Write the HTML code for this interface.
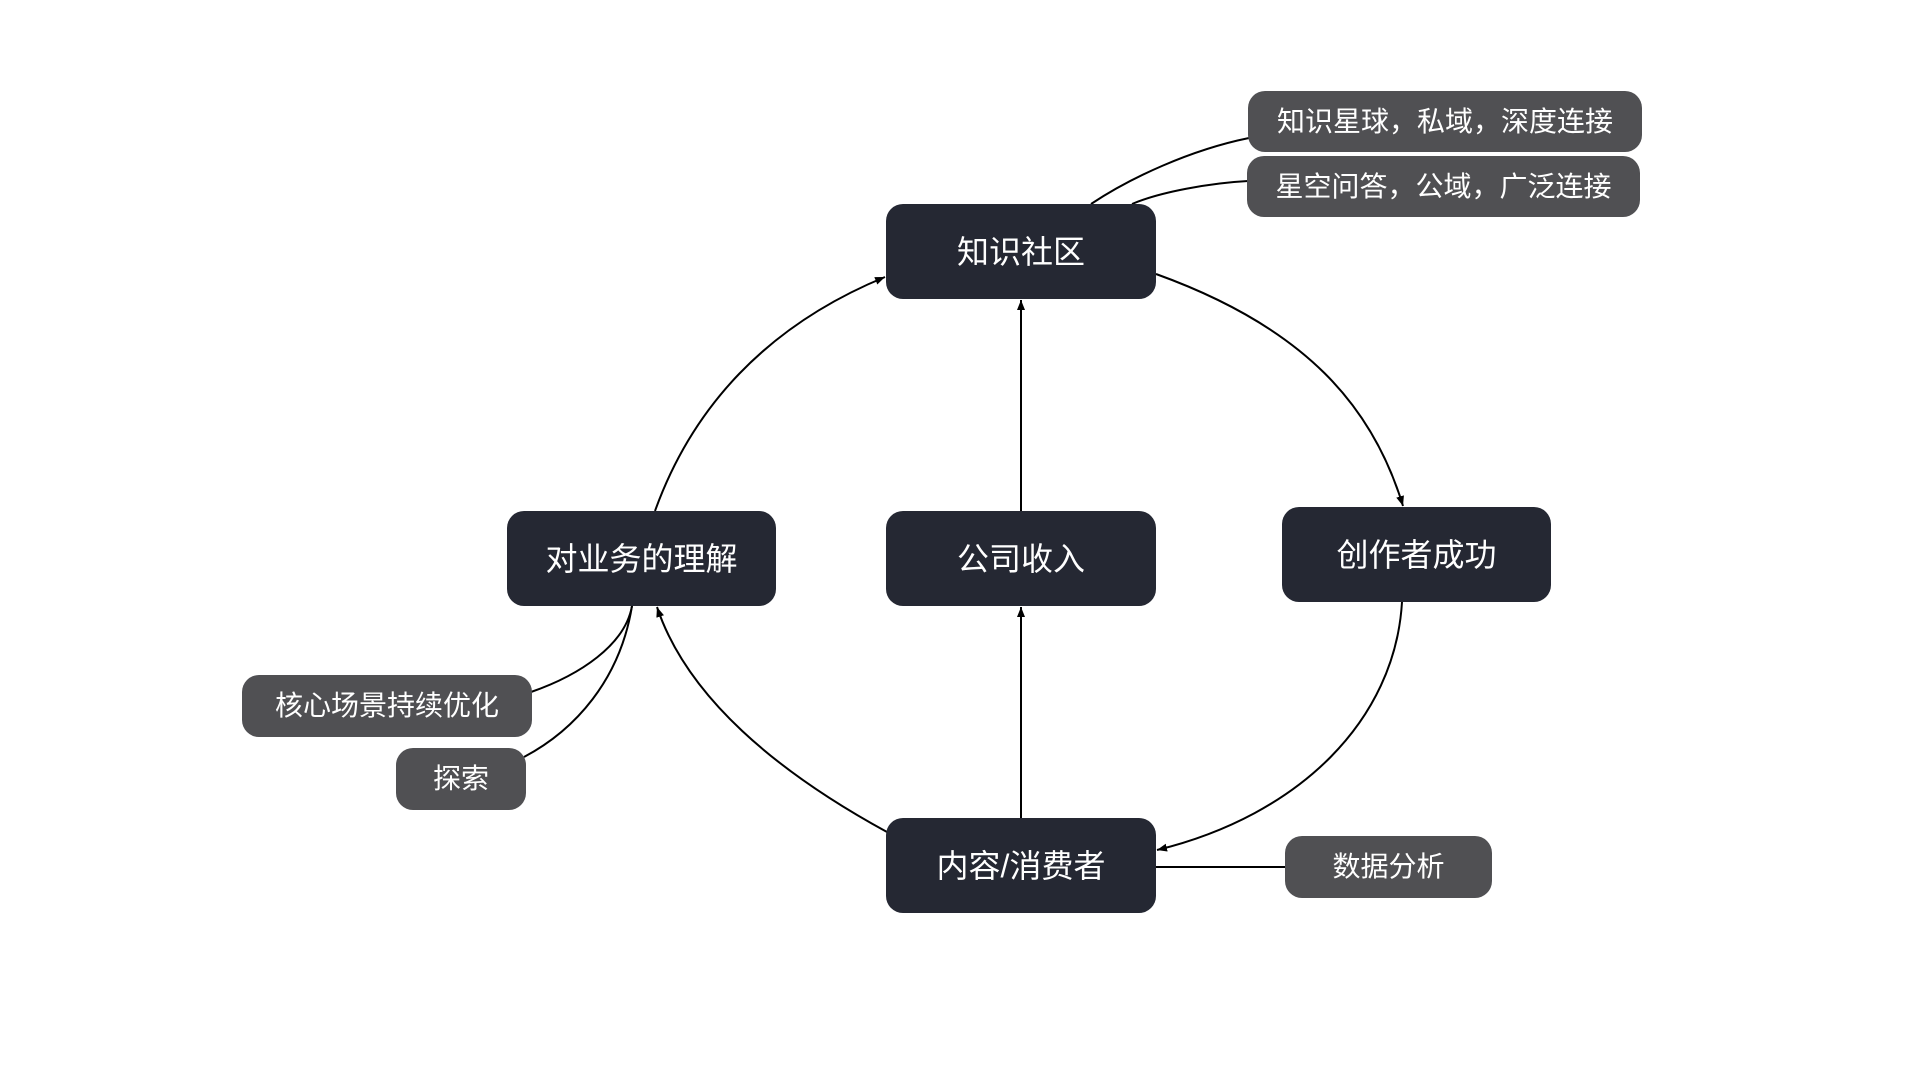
<!DOCTYPE html>
<html>
<head>
<meta charset="utf-8">
<style>
  html, body { margin:0; padding:0; background:#ffffff; }
  body { width:1920px; height:1080px; position:relative; overflow:hidden;
         font-family:"Liberation Sans","Noto Sans CJK SC",sans-serif; }
  svg { position:absolute; left:0; top:0; }
  .n { position:absolute; box-sizing:border-box; display:flex; align-items:center; justify-content:center;
       color:#ffffff; white-space:nowrap; line-height:1; }
  .m { background:#252833; border-radius:17px; font-size:32px; }
  .s { background:#505053; border-radius:17px; font-size:28px; }
</style>
</head>
<body>
<svg width="1920" height="1080" viewBox="0 0 1920 1080">
  <defs>
    <marker id="ah" markerUnits="userSpaceOnUse" markerWidth="12" markerHeight="10" refX="10" refY="4" orient="auto">
      <path d="M0,0 L10,4 L0,8 z" fill="#000"/>
    </marker>
  </defs>
  <g fill="none" stroke="#000" stroke-width="2">
    <!-- 知识社区 -> 创作者成功 -->
    <path d="M1156,274 C1306,328 1373,407 1403,506" marker-end="url(#ah)"/>
    <!-- 创作者成功 -> 内容/消费者 -->
    <path d="M1402,602 C1395,720 1300,815 1157,850" marker-end="url(#ah)"/>
    <!-- 内容/消费者 -> 对业务的理解 -->
    <path d="M887,832 C777,772 687,697 657,607" marker-end="url(#ah)"/>
    <!-- 对业务的理解 -> 知识社区 -->
    <path d="M655,511 C692,408 766,326 885,277" marker-end="url(#ah)"/>
    <!-- 内容 -> 公司收入 -->
    <path d="M1021,818 L1021,607" marker-end="url(#ah)"/>
    <!-- 公司收入 -> 知识社区 -->
    <path d="M1021,511 L1021,300" marker-end="url(#ah)"/>
    <!-- 知识社区 -> sub nodes -->
    <path d="M1091,204 C1130,178 1190,150 1249,138"/>
    <path d="M1132,204 C1160,192 1210,183 1248,181"/>
    <!-- 对业务的理解 -> sub nodes -->
    <path d="M632,606 C625,645 580,675 531,692"/>
    <path d="M632,606 C620,680 575,730 524,757"/>
    <!-- 内容 -> 数据分析 -->
    <path d="M1156,867 L1286,867"/>
  </g>
</svg>

<div class="n m" style="left:886px;top:204px;width:270px;height:95px;">知识社区</div>
<div class="n m" style="left:886px;top:511px;width:270px;height:95px;">公司收入</div>
<div class="n m" style="left:507px;top:511px;width:269px;height:95px;">对业务的理解</div>
<div class="n m" style="left:1282px;top:507px;width:269px;height:95px;">创作者成功</div>
<div class="n m" style="left:886px;top:818px;width:270px;height:95px;">内容/消费者</div>

<div class="n s" style="left:1248px;top:91px;width:394px;height:61px;">知识星球，私域，深度连接</div>
<div class="n s" style="left:1247px;top:156px;width:393px;height:61px;">星空问答，公域，广泛连接</div>
<div class="n s" style="left:242px;top:675px;width:290px;height:62px;">核心场景持续优化</div>
<div class="n s" style="left:396px;top:748px;width:130px;height:62px;">探索</div>
<div class="n s" style="left:1285px;top:836px;width:207px;height:62px;">数据分析</div>
</body>
</html>
